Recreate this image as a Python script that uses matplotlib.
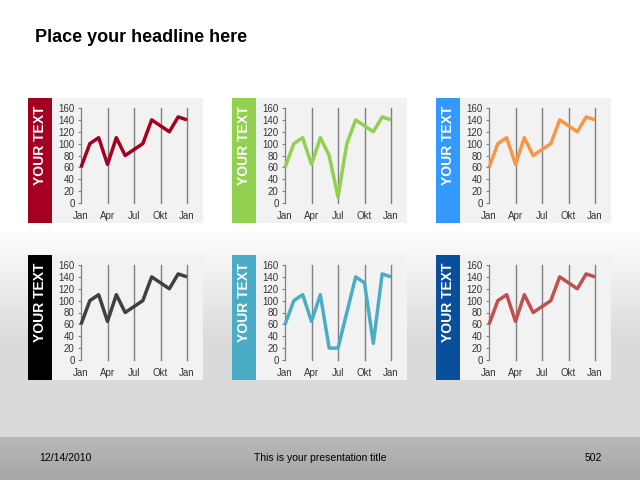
import numpy as np
import matplotlib
matplotlib.use("Agg")
import matplotlib.pyplot as plt
from matplotlib.patches import Rectangle

plt.rcParams['font.family'] = ['Liberation Sans', 'DejaVu Sans']

# ---- data ----
x_positions = list(range(13))  # Jan .. Jan (13 months)
tick_positions = [0, 3, 6, 9, 12]
tick_labels = ['Jan', 'Apr', 'Jul', 'Okt', 'Jan']
y_ticks = [0, 20, 40, 60, 80, 100, 120, 140, 160]

series_1 = [60, 100, 110, 65, 110, 80, 90, 100, 140, 130, 120, 145, 140]
series_2 = [60, 100, 110, 65, 110, 80, 10, 100, 140, 130, 120, 145, 140]
series_3 = [60, 100, 110, 65, 110, 80, 90, 100, 140, 130, 120, 145, 140]
series_4 = [60, 100, 110, 65, 110, 80, 90, 100, 140, 130, 120, 145, 140]
series_5 = [60, 100, 110, 65, 110, 20, 20, 80, 140, 130, 28, 145, 140]
series_6 = [60, 100, 110, 65, 110, 80, 90, 100, 140, 130, 120, 145, 140]

line_colors = ['#a50021', '#92d050', '#f79646', '#404040', '#4bacc6', '#c0504d']
strip_colors = ['#a50021', '#92d050', '#3399ff', '#000000', '#4bacc6', '#0a4f9c']
strip_label = 'YOUR TEXT'
headline = 'Place your headline here'
footer_date = '12/14/2010'
footer_title = 'This is your presentation title'
footer_page = '502'

all_series = [series_1, series_2, series_3, series_4, series_5, series_6]

W, H = 640, 480
fig = plt.figure(figsize=(6.4, 4.8), dpi=100)

# ---- background ----
bg = fig.add_axes([0, 0, 1, 1])
bg.set_xlim(0, W)
bg.set_ylim(H, 0)
bg.axis('off')
rows = np.arange(H)
vals = np.ones(H)
for i, y in enumerate(rows):
    if y < 225:
        v = 1.0
    elif y < 340:
        t = (y - 225) / (340 - 225)
        v = 1.0 - t * (1.0 - 0.855)
    elif y < 437:
        v = 0.855
    else:
        t = (y - 437) / (480 - 437)
        v = 0.72 - t * 0.07
    vals[i] = v
grad = np.repeat(vals[:, None], 2, axis=1)
bg.imshow(grad, cmap='gray', vmin=0, vmax=1, extent=[0, W, H, 0], aspect='auto', zorder=0)

def fx(x):
    return x / W

def fy(y):
    return 1 - y / H

# headline and footer
bg.text(35, 37, headline, fontsize=13, fontweight='bold', va='center', ha='left', color='black')
bg.text(39, 458, footer_date, fontsize=7.5, va='center', ha='left', color='black')
bg.text(320, 458, footer_title, fontsize=7.5, va='center', ha='center', color='black')
bg.text(602, 458, footer_page, fontsize=7.5, va='center', ha='right', color='black')

panel_x = [28, 232, 436]
panel_y = [98, 255]
panel_w, panel_h = 175, 125
strip_w = 24

k = 0
for r in range(2):
    for c in range(3):
        px, py = panel_x[c], panel_y[r]
        bg.add_patch(Rectangle((px, py), panel_w, panel_h, facecolor='#f2f2f2', edgecolor='none', zorder=1))
        bg.add_patch(Rectangle((px, py), strip_w, panel_h, facecolor=strip_colors[k], edgecolor='none', zorder=2))
        bg.text(px + strip_w / 2 + 0.5, py + 47, strip_label, rotation=90, color='white', fontsize=10,
                fontweight='bold', ha='center', va='center', zorder=3)

        left, right = px + 53, px + 159
        top, bottom = py + 10, py + 105
        ax = fig.add_axes([fx(left), fy(bottom), (right - left) / W, (bottom - top) / H])
        ax.patch.set_alpha(0)
        ax.set_xlim(0, 12)
        ax.set_ylim(0, 160)
        for xv in tick_positions[1:]:
            ax.axvline(xv, color='#808080', lw=1.0, zorder=1, clip_on=False)
        ax.plot(x_positions, all_series[k], color=line_colors[k], lw=2.5, solid_joinstyle='round',
                solid_capstyle='butt', zorder=3, clip_on=False)
        for s in ['top', 'right', 'bottom']:
            ax.spines[s].set_visible(False)
        ax.spines['left'].set_color('#808080')
        ax.spines['left'].set_linewidth(0.9)
        ax.set_yticks(y_ticks)
        ax.set_yticklabels([str(v) for v in y_ticks])
        ax.set_xticks(tick_positions)
        ax.set_xticklabels(tick_labels)
        ax.tick_params(axis='y', length=2.5, width=0.8, color='#808080', labelsize=7, labelcolor='#333333', pad=2)
        ax.tick_params(axis='x', length=0, labelsize=7, labelcolor='#333333', pad=6)
        k += 1

fig.savefig('out.png', dpi=100)
